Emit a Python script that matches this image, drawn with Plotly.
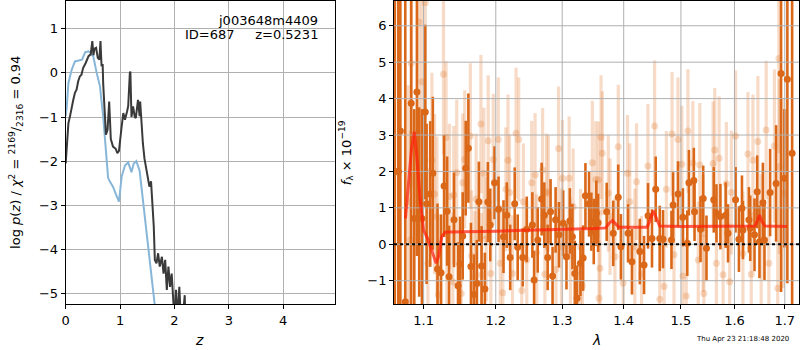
import math
import plotly.graph_objects as go

# ---------------- data: left panel (log p(z)) ----------------
z_prior = [0.00, 0.02, 0.05, 0.11, 0.17, 0.20, 0.26, 0.30, 0.36, 0.42, 0.46, 0.51, 0.57, 0.63,
           0.69, 0.75, 0.78, 0.81, 0.87, 0.93, 0.98, 1.03, 1.09, 1.15, 1.21, 1.25, 1.30, 1.36,
           1.42, 1.48, 1.54, 1.60, 1.66]
logp_prior = [-0.98, -0.76, -0.23, 0.07, 0.26, 0.27, 0.29, 0.30, 0.47, 0.49, 0.45, 0.36, 0.00, -0.30,
              -0.99, -1.97, -2.38, -2.46, -2.58, -2.77, -2.92, -2.35, -2.10, -2.03, -2.25, -2.06, -2.00, -2.22,
              -2.85, -3.48, -4.17, -4.85, -5.50]

z_chi = [0.00, 0.02, 0.05, 0.08, 0.11, 0.14, 0.17, 0.20, 0.23, 0.26, 0.29, 0.32, 0.37, 0.42, 0.46,
         0.49, 0.51, 0.53, 0.56, 0.59, 0.62, 0.64, 0.66, 0.68, 0.69, 0.72, 0.74, 0.77, 0.80, 0.83,
         0.87, 0.92, 0.95, 0.98, 1.00, 1.03, 1.06, 1.09, 1.13, 1.15, 1.18, 1.19, 1.21, 1.24, 1.27,
         1.29, 1.33, 1.36, 1.37, 1.39, 1.42, 1.45, 1.50, 1.54, 1.57, 1.59, 1.62, 1.64, 1.67, 1.70,
         1.73, 1.77, 1.80, 1.83, 1.86, 1.89, 1.92, 1.95, 1.98, 2.00, 2.03, 2.06, 2.09, 2.12, 2.15,
         2.19, 2.20, 2.22]
logp_chi = [-2.05, -1.59, -1.14, -0.98, -0.83, -0.61, -0.45, -0.38, -0.19, -0.08, -0.04, 0.11, 0.23, 0.38, 0.42,
            0.72, 0.40, 0.55, 0.57, 0.34, 0.30, 0.72, 0.15, 0.20, -0.25, -0.83, -1.40, -1.29, -0.65, -1.50,
            -1.67, -1.72, -1.82, -1.77, -1.59, -1.21, -0.91, -1.06, -0.87, -0.75, 0.00, 0.03, -1.00, -0.76, -1.00,
            -1.02, -0.61, -0.98, -0.65, -1.14, -1.60, -1.95, -2.27, -2.58, -2.46, -2.80, -3.48, -4.24, -4.32, -4.09,
            -4.39, -4.17, -4.55, -4.24, -4.92, -4.39, -4.85, -4.55, -5.00, -5.60, -4.92, -5.60, -4.85, -5.60, -5.60,
            -5.04, -5.60, -5.60]

# ---------------- data: right panel (spectrum) ----------------
dark_lam = [1.0625, 1.0670, 1.0696, 1.0760, 1.0837, 1.0877, 1.0912, 1.0942, 1.0978, 1.1022, 1.1040, 1.1088,
            1.1123, 1.1186, 1.1234, 1.1275, 1.1316, 1.1343, 1.1411, 1.1466, 1.1494, 1.1531, 1.1573, 1.1610,
            1.1646, 1.1688, 1.1730, 1.1758, 1.1796, 1.1843, 1.1886, 1.1920, 1.1982, 1.2040, 1.2112, 1.2160,
            1.2210, 1.2277, 1.2321, 1.2396, 1.2456, 1.2541, 1.2567, 1.2622, 1.2682, 1.2723, 1.2774, 1.2819,
            1.2850, 1.2897, 1.2949, 1.3015, 1.3067, 1.3120, 1.3161, 1.3199, 1.3236, 1.3289, 1.3332, 1.3369,
            1.3428, 1.3465, 1.3504, 1.3546, 1.3575, 1.3716, 1.3825, 1.3908, 1.3953, 1.4074, 1.4140, 1.4275,
            1.4348, 1.4417, 1.4486, 1.4551, 1.4622, 1.4680, 1.4830, 1.4859, 1.4948, 1.5035, 1.5115, 1.5145,
            1.5235, 1.5248, 1.5358, 1.5408, 1.5469, 1.5605, 1.5656, 1.5731, 1.5831, 1.5876, 1.6021, 1.6086,
            1.6145, 1.6164, 1.6281, 1.6307, 1.6391, 1.6444, 1.6489, 1.6557, 1.6589, 1.6702, 1.6823, 1.6924,
            1.6992, 1.7053, 1.7151]
dark_flux = [2.00, 2.00, 3.11, -1.58, 3.87, 0.71, 4.18, 1.16, 0.71, 3.63, 1.11, 1.38,
             1.95, -0.68, -0.78, 1.60, 0.91, -0.89, 0.67, -1.14, -0.54, 0.23, 2.09, 2.64,
             -0.61, -1.38, -1.08, 1.17, -0.60, -1.23, 1.16, 0.53, 1.69, 0.96, 0.21, 0.80,
             -0.36, 1.11, -0.08, -0.36, 0.41, 0.53, -0.98, 0.12, 1.24, 0.80, -0.36, 0.89,
             -0.87, 0.67, 0.26, 0.58, -0.34, 0.64, 0.21, -0.80, -1.48, -0.52, -0.38, 1.33,
             1.11, 0.62, 0.35, 0.85, 0.59, 0.89, 0.30, 1.29, -0.07, 0.30, -0.48, -0.20,
             -0.57, 0.78, 0.16, 1.51, 0.16, 0.14, 0.12, 1.08, 1.38, 0.74, 0.03, 1.69,
             1.75, 0.89, 0.41, 1.26, -0.11, 1.22, 0.85, 0.76, 0.80, 0.30, 1.22, 0.14,
             0.99, 0.39, 0.67, 0.44, 0.26, 1.44, 0.07, 1.14, 0.12, 1.42, 1.67, 4.69,
             1.81, 4.53, 2.50]
dark_err = [30.0, 30.0, 30.0, 30.0, 6.0, 3.0, 4.5, 2.6, 3.0, 2.4, 2.2, 2.0,
            2.1, 1.8, 1.6, 1.4, 1.5, 1.4, 1.3, 1.2, 1.3, 1.2, 1.3, 1.5,
            1.2, 1.1, 1.2, 1.1, 1.1, 1.0, 1.1, 1.0, 1.0, 0.9, 1.0, 0.9,
            0.9, 1.0, 0.9, 0.8, 0.9, 0.9, 0.8, 0.9, 1.0, 0.9, 0.9, 0.9,
            0.8, 0.9, 0.9, 0.9, 0.9, 0.9, 0.9, 0.9, 0.9, 0.9, 0.9, 0.9,
            0.9, 0.8, 0.9, 0.9, 0.8, 0.8, 0.9, 0.9, 0.9, 0.8, 0.9, 0.9,
            0.8, 0.9, 0.8, 0.9, 0.9, 0.8, 0.8, 0.9, 0.9, 0.8, 0.9, 0.9,
            0.9, 0.8, 0.9, 0.9, 0.9, 0.9, 0.8, 0.9, 0.9, 0.8, 0.9, 0.9,
            0.9, 0.8, 0.9, 0.9, 1.0, 1.0, 1.0, 1.1, 1.1, 1.2, 1.6, 6.0,
            1.9, 5.6, 12.0]

light_lam = [1.0798, 1.0827, 1.0838, 1.0939, 1.0978, 1.1022, 1.1057, 1.1110, 1.1146, 1.1178, 1.1200, 1.1267,
             1.1302, 1.1312, 1.1348, 1.1394, 1.1407, 1.1448, 1.1510, 1.1531, 1.1559, 1.1637, 1.1656, 1.1702,
             1.1719, 1.1787, 1.1796, 1.1829, 1.1862, 1.1891, 1.1929, 1.1963, 1.2036, 1.2065, 1.2102, 1.2146,
             1.2178, 1.2200, 1.2244, 1.2297, 1.2336, 1.2381, 1.2406, 1.2456, 1.2531, 1.2582, 1.2607, 1.2697,
             1.2731, 1.2758, 1.2784, 1.2903, 1.2943, 1.2989, 1.3004, 1.3109, 1.3130, 1.3173, 1.3291, 1.3321,
             1.3481, 1.3536, 1.3579, 1.3590, 1.3606, 1.3623, 1.3644, 1.3743, 1.3771, 1.3853, 1.3909, 1.3991,
             1.4065, 1.4103, 1.4189, 1.4218, 1.4304, 1.4415, 1.4532, 1.4622, 1.4699, 1.4739, 1.4840, 1.4875,
             1.4946, 1.5017, 1.5035, 1.5096, 1.5127, 1.5217, 1.5316, 1.5345, 1.5406, 1.5420, 1.5593, 1.5624,
             1.5655, 1.5706, 1.5782, 1.5844, 1.5907, 1.5939, 1.6021, 1.6164, 1.6262, 1.6327, 1.6360, 1.6458,
             1.6523, 1.6623, 1.6676, 1.6790, 1.6856, 1.6880, 1.6892, 1.6974]
light_flux = [1.17, 0.12, 4.97, 6.10, 4.46, 6.63, -0.52, 2.31, 1.38, 0.76, -1.39, 4.67,
              2.93, 0.30, 1.31, -1.03, 1.35, 1.97, -1.35, 1.69, 2.33, 2.97, -0.32, -0.89,
              1.24, 3.30, -0.84, 1.95, 0.14, 2.84, -0.80, 2.33, 2.88, -0.52, -1.33, 1.51,
              2.31, 1.42, -0.80, 3.05, 2.88, -1.27, 1.17, -0.43, 1.69, 1.90, -0.23, 2.04,
              -0.82, 1.44, 1.40, -0.69, 2.63, -0.07, 1.81, 1.81, -0.32, 1.03, -0.08, -1.14,
              2.24, 1.78, 1.77, -1.48, -0.66, 2.94, 2.50, 1.40, 0.76, -0.34, 2.68, -1.07,
              1.95, 1.17, -0.07, 1.72, -0.82, 2.15, 3.25, -1.51, -1.16, 1.51, 3.03, -0.29,
              2.88, 2.20, -0.87, -1.42, 3.11, 2.23, -0.43, 2.18, 0.30, -1.35, 2.22, 2.59,
              -0.52, 2.36, -0.84, 1.66, -1.03, 1.42, 2.97, -0.25, 2.48, -0.82, 2.31, 2.82,
              0.12, 3.14, -0.52, 2.70, -1.21, 5.10, 2.13, 1.40]
light_err = [3.2, 3.0, 3.4, 3.2, 3.0, 3.2, 2.6, 2.4, 2.2, 2.2, 2.1, 2.2,
             2.1, 2.0, 2.0, 1.9, 1.9, 2.0, 1.8, 1.9, 1.9, 2.0, 1.8, 1.8,
             1.8, 1.9, 1.7, 1.8, 1.7, 1.8, 1.7, 1.8, 1.7, 1.6, 1.7, 1.7,
             1.8, 1.6, 1.6, 1.8, 1.7, 1.6, 1.6, 1.6, 1.7, 1.7, 1.6, 1.7,
             1.6, 1.6, 1.6, 1.6, 1.7, 1.6, 1.6, 1.7, 1.6, 1.6, 1.6, 1.6,
             1.7, 1.6, 1.6, 1.6, 1.6, 1.7, 1.7, 1.6, 1.6, 1.6, 1.7, 1.6,
             1.6, 1.6, 1.6, 1.6, 1.6, 1.7, 1.8, 1.6, 1.6, 1.6, 1.7, 1.6,
             1.7, 1.6, 1.6, 1.6, 1.7, 1.7, 1.6, 1.7, 1.6, 1.6, 1.7, 1.7,
             1.6, 1.7, 1.6, 1.7, 1.6, 1.7, 1.8, 1.7, 1.7, 1.7, 1.8, 1.8,
             1.8, 1.9, 1.9, 2.1, 2.2, 2.6, 2.4, 2.6]

model_lam = [1.0762, 1.0800, 1.0840, 1.0877, 1.0910, 1.0955, 1.1000, 1.1057, 1.1110, 1.1167, 1.1200,
             1.1244, 1.1289, 1.1350, 1.2000, 1.2500, 1.3000, 1.3500, 1.3700, 1.3760, 1.3810, 1.3860,
             1.3920, 1.4400, 1.4450, 1.4510, 1.4570, 1.4620, 1.5000, 1.6000, 1.6400, 1.6450, 1.6490,
             1.6540, 1.6600, 1.7050]
model_flux = [0.71, 1.60, 2.60, 3.09, 2.40, 1.22, 0.39, 0.14, -0.20, -0.52, -0.34,
              0.21, 0.33, 0.34, 0.36, 0.38, 0.40, 0.43, 0.45, 0.58, 0.65, 0.58,
              0.47, 0.47, 0.65, 0.92, 0.70, 0.50, 0.49, 0.50, 0.50, 0.65, 0.80,
              0.62, 0.50, 0.49]

z_ticks = [0, 1, 2, 3, 4]
logp_ticks = [-5, -4, -3, -2, -1, 0, 1]
logp_ticktext = ["\u22125", "\u22124", "\u22123", "\u22122", "\u22121", "0", "1"]
lam_ticks = [1.1, 1.2, 1.3, 1.4, 1.5, 1.6, 1.7]
lam_ticktext = ["1.1", "1.2", "1.3", "1.4", "1.5", "1.6", "1.7"]
flux_ticks = [-1, 0, 1, 2, 3, 4, 5, 6]
flux_ticktext = ["\u22121", "0", "1", "2", "3", "4", "5", "6"]

z_range = [0, 4.96]
logp_range = [-5.24, 1.63]
lam_range = [1.0615, 1.7294]
flux_range = [-1.64, 6.68]

# ---------------- figure ----------------
W, H = 800, 350
FONT = "DejaVu Sans"
DARK = "rgb(218,104,24)"
LIGHT = "rgba(222,110,30,0.25)"
GRID = "#b0b0b0"

fig = go.Figure()

# left panel
fig.add_trace(go.Scatter(x=z_prior, y=logp_prior, mode="lines",
                         line=dict(color="rgb(135,182,216)", width=2), xaxis="x", yaxis="y",
                         hoverinfo="skip", showlegend=False))
fig.add_trace(go.Scatter(x=z_chi, y=logp_chi, mode="lines",
                         line=dict(color="rgb(58,58,58)", width=2), xaxis="x", yaxis="y",
                         hoverinfo="skip", showlegend=False))

# right panel: error bars first
fig.add_trace(go.Scatter(x=light_lam, y=light_flux, mode="markers",
                         marker=dict(size=7, color="rgba(0,0,0,0)"),
                         error_y=dict(type="data", array=light_err, color=LIGHT, thickness=3.2, width=0),
                         xaxis="x2", yaxis="y2", hoverinfo="skip", showlegend=False))
fig.add_trace(go.Scatter(x=dark_lam, y=dark_flux, mode="markers",
                         marker=dict(size=7, color="rgba(0,0,0,0)"),
                         error_y=dict(type="data", array=dark_err, color=DARK, thickness=2.6, width=0),
                         xaxis="x2", yaxis="y2", hoverinfo="skip", showlegend=False))

# grid lines on top of error bars (right panel)
gx, gy = [], []
for v in lam_ticks:
    gx += [v, v, None]
    gy += [flux_range[0], flux_range[1], None]
for v in flux_ticks:
    gx += [lam_range[0], lam_range[1], None]
    gy += [v, v, None]
fig.add_trace(go.Scatter(x=gx, y=gy, mode="lines", line=dict(color=GRID, width=1),
                         xaxis="x2", yaxis="y2", hoverinfo="skip", showlegend=False))

# markers
fig.add_trace(go.Scatter(x=light_lam, y=light_flux, mode="markers",
                         marker=dict(size=7, color=LIGHT, line=dict(width=0)),
                         xaxis="x2", yaxis="y2", hoverinfo="skip", showlegend=False))
fig.add_trace(go.Scatter(x=dark_lam, y=dark_flux, mode="markers",
                         marker=dict(size=7, color=DARK, line=dict(width=0)),
                         xaxis="x2", yaxis="y2", hoverinfo="skip", showlegend=False))
# model
fig.add_trace(go.Scatter(x=model_lam, y=model_flux, mode="lines",
                         line=dict(color="rgba(255,30,10,0.72)", width=3),
                         xaxis="x2", yaxis="y2", hoverinfo="skip", showlegend=False))

# zero line
fig.add_shape(type="line", xref="x2 domain", yref="y2", x0=0, x1=1, y0=0, y1=0,
              line=dict(color="black", width=2, dash="dot"), layer="above")

axis_common = dict(showline=True, linecolor="black", linewidth=1, mirror=True,
                   ticks="outside", ticklen=4, tickcolor="black", tickwidth=1,
                   tickfont=dict(family=FONT, size=13, color="black"), zeroline=False)

fig.update_layout(
    width=W, height=H,
    margin=dict(l=0, r=0, t=0, b=0),
    paper_bgcolor="white", plot_bgcolor="white",
    font=dict(family=FONT, color="black"),
    xaxis=dict(domain=[62 / W, 333 / W], range=z_range, tickvals=z_ticks,
               showgrid=True, gridcolor=GRID, gridwidth=1, anchor="y", **axis_common),
    yaxis=dict(domain=[1 - 304 / H, 1 - 1 / H], range=logp_range, tickvals=logp_ticks,
               ticktext=logp_ticktext,
               showgrid=True, gridcolor=GRID, gridwidth=1, anchor="x", **axis_common),
    xaxis2=dict(domain=[392 / W, 799 / W], type="log",
                range=[math.log10(lam_range[0]), math.log10(lam_range[1])],
                tickvals=lam_ticks, ticktext=lam_ticktext, showgrid=False, anchor="y2", **axis_common),
    yaxis2=dict(domain=[1 - 304 / H, 1 - 1 / H], range=flux_range, tickvals=flux_ticks,
                ticktext=flux_ticktext, showgrid=False, anchor="x2", **axis_common),
)

ann = []
ann.append(dict(text="j003648m4409", x=318 / W, y=1 - 20 / H, xref="paper", yref="paper",
                xanchor="right", yanchor="middle", showarrow=False,
                font=dict(family=FONT, size=13, color="black")))
ann.append(dict(text="ID=687     z=0.5231", x=318 / W, y=1 - 35 / H, xref="paper", yref="paper",
                xanchor="right", yanchor="middle", showarrow=False,
                font=dict(family=FONT, size=13, color="black")))
ann.append(dict(text="log <i>p</i>(<i>z</i>) / <i>\u03c7</i><sup>2</sup> = <sup>2169</sup>/<sub>2316</sub> = 0.94",
                x=12 / W, y=1 - 152 / H, xref="paper", yref="paper", textangle=-90,
                xanchor="center", yanchor="middle", showarrow=False,
                font=dict(family=FONT, size=13, color="black")))
ann.append(dict(text="<i>f</i><sub>\u03bb</sub> \u00d7 10<sup>\u221219</sup>",
                x=344 / W, y=1 - 153 / H, xref="paper", yref="paper", textangle=-90,
                xanchor="center", yanchor="middle", showarrow=False,
                font=dict(family=FONT, size=13, color="black")))
ann.append(dict(text="<i>z</i>", x=196 / W, y=1 - 340 / H, xref="paper", yref="paper",
                xanchor="center", yanchor="middle", showarrow=False,
                font=dict(family=FONT, size=14, color="black")))
ann.append(dict(text="<i>\u03bb</i>", x=595 / W, y=1 - 340 / H, xref="paper", yref="paper",
                xanchor="center", yanchor="middle", showarrow=False,
                font=dict(family=FONT, size=14, color="black")))
ann.append(dict(text="Thu Apr 23 21:18:48 2020", x=742 / W, y=1 - 339 / H, xref="paper", yref="paper",
                xanchor="center", yanchor="middle", showarrow=False,
                font=dict(family=FONT, size=7, color="black")))
fig.update_layout(annotations=ann)

fig.write_html("out.html", config={"displayModeBar": False},
               post_script="document.body.style.margin='0px';document.body.style.overflow='hidden';")
